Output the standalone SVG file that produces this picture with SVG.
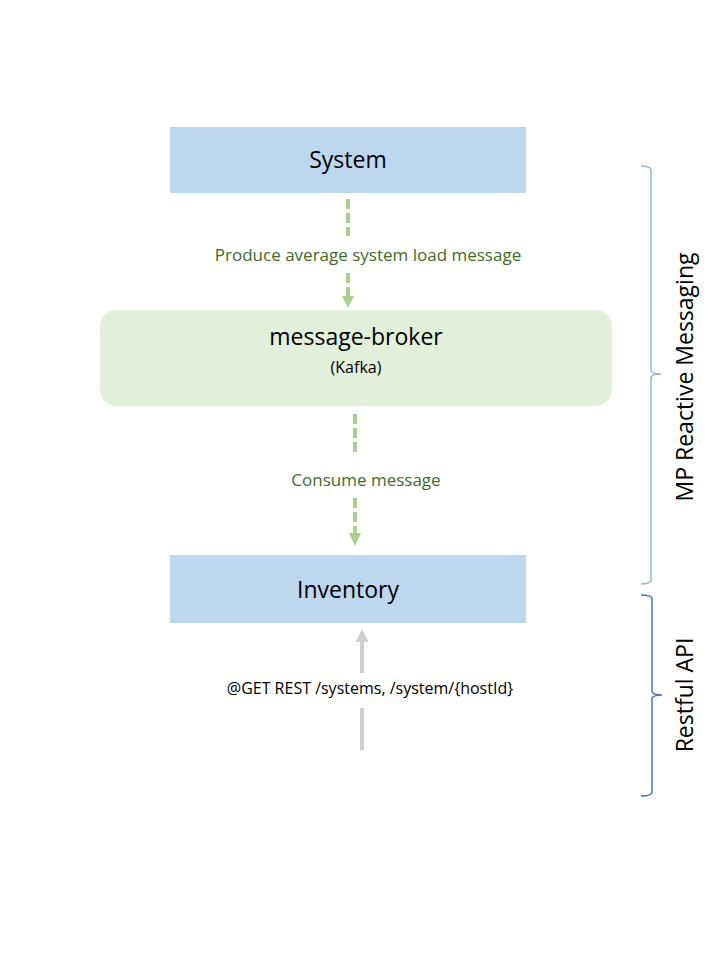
<svg xmlns="http://www.w3.org/2000/svg" width="720" height="961" viewBox="0 0 720 961">
<defs>
<style>
text { font-family: "Open Sans", "Liberation Sans", sans-serif; }
.node-title { font-size: 23px; fill: #000; text-anchor: middle; }
.sub { font-size: 16px; fill: #000; text-anchor: middle; }
.glabel { font-size: 17px; fill: #3E6B2A; text-anchor: middle; }
.blabel { font-size: 16px; fill: #000; text-anchor: middle; }
.side { font-size: 23px; fill: #000; text-anchor: middle; }
.dash { stroke: #A9D18E; stroke-width: 4; stroke-dasharray: 10 4; fill: none; }
.solid { stroke: #D0CECE; stroke-width: 4; fill: none; }
.brace1 { stroke: #8EB4E3; stroke-width: 1.5; fill: none; }
.brace2 { stroke: #4472C4; stroke-width: 1.5; fill: none; }
</style>
</defs>
<rect width="720" height="961" fill="#fff"/>

<g id="system">
<rect x="170" y="127" width="356" height="66" fill="#BDD7EE"/>
<text class="node-title" x="348" y="168">System</text>
</g>

<g id="message-broker">
<rect x="100" y="310" width="512" height="96" rx="16" fill="#E2EFDA"/>
<text class="node-title" x="356" y="345">message-broker</text>
<text class="sub" x="356" y="373">(Kafka)</text>
</g>

<g id="inventory">
<rect x="170" y="555" width="356" height="68" fill="#BDD7EE"/>
<text class="node-title" x="348" y="598">Inventory</text>
</g>

<g id="connectors">
<line class="dash" x1="348" y1="199" x2="348" y2="236"/>
<line class="dash" x1="348" y1="273" x2="348" y2="297"/>
<polygon points="342,296 354,296 348,308" fill="#A9D18E"/>
<text class="glabel" x="368" y="261">Produce average system load message</text>

<line class="dash" x1="355" y1="414" x2="355" y2="456"/>
<line class="dash" x1="355" y1="498" x2="355" y2="534"/>
<polygon points="349,533 361,533 355,546" fill="#A9D18E"/>
<text class="glabel" x="366" y="486">Consume message</text>

<line class="solid" x1="362" y1="673" x2="362" y2="641"/>
<line class="solid" x1="362" y1="708" x2="362" y2="750"/>
<polygon points="355.5,642 368.5,642 362,629" fill="#D0CECE"/>
<text class="blabel" x="370" y="694">@GET REST /systems, /system/{hostId}</text>
</g>

<g id="group-reactive">
<path class="brace1" d="M641,166 Q651,166 651,170 L651,370 Q651,374 661,374 Q651,374 651,378 L651,580 Q651,584 641,584"/>
<text class="side" transform="translate(693,377) rotate(-90)">MP Reactive Messaging</text>
</g>

<g id="group-rest">
<path class="brace2" d="M641,595 Q652,595 652,599 L652,691 Q652,695 662,695 Q652,695 652,699 L652,792 Q652,796 641,796"/>
<text class="side" transform="translate(693,695) rotate(-90)">Restful API</text>
</g>
</svg>
